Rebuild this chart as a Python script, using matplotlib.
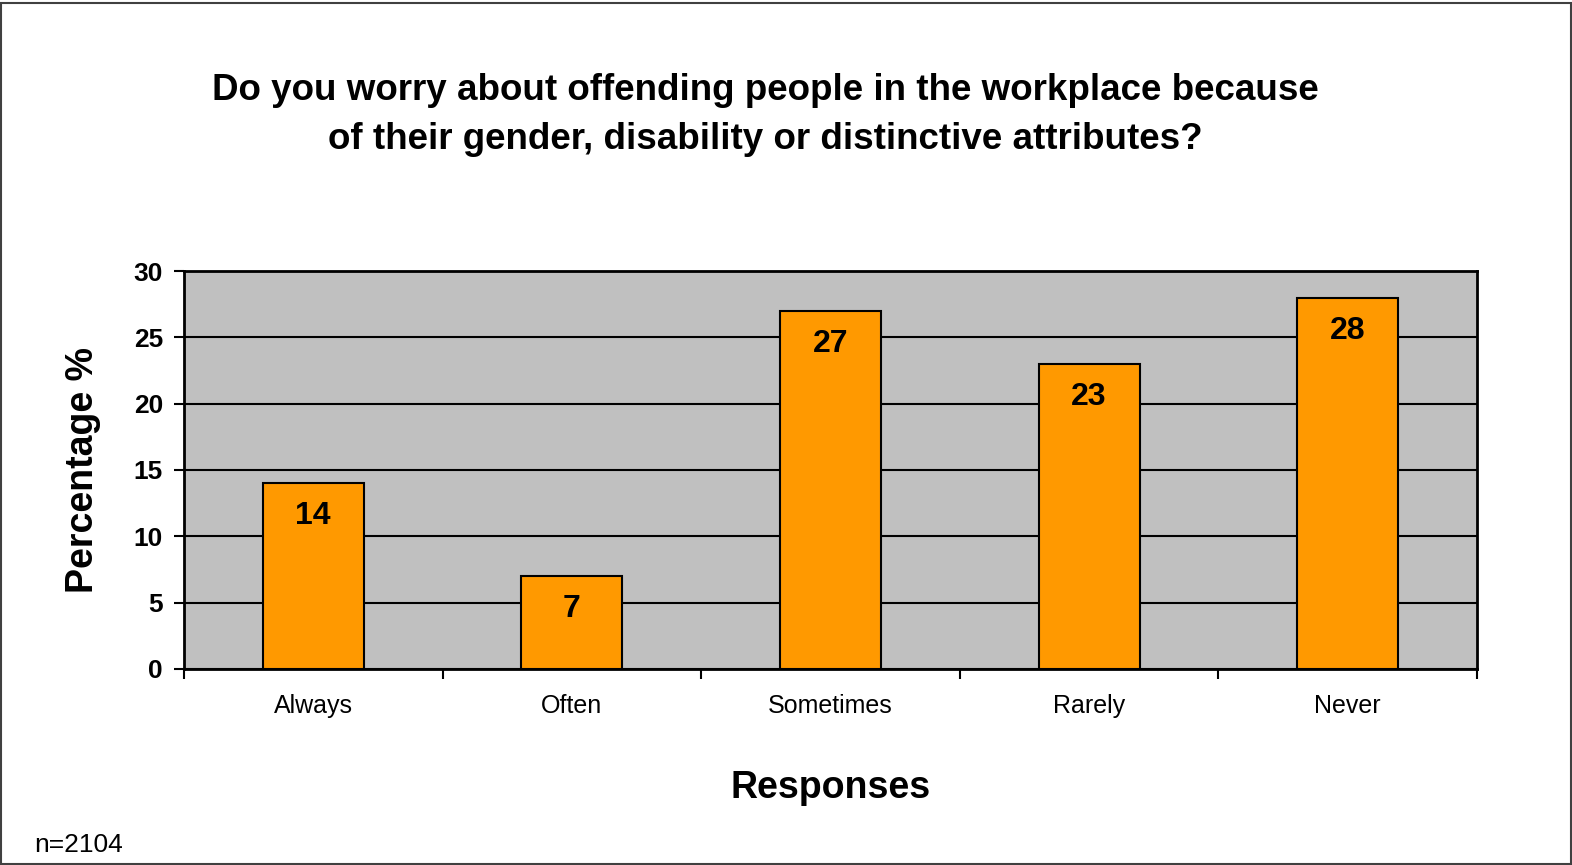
import matplotlib
matplotlib.use("Agg")
import matplotlib.pyplot as plt
from matplotlib.patches import Rectangle

plt.rcParams["font.family"] = ["Liberation Sans", "DejaVu Sans"]

categories = ["Always", "Often", "Sometimes", "Rarely", "Never"]
values = [14, 7, 27, 23, 28]
yticks = [0, 5, 10, 15, 20, 25, 30]

title = ("Do you worry about offending people in the workplace because\n"
         "of their gender, disability or distinctive attributes?")

fig = plt.figure(figsize=(15.72, 8.65), dpi=100)
ax = fig.add_axes([0.117, 0.2266, 0.8226, 0.4601])
ax.set_facecolor("#c0c0c0")

x = list(range(len(categories)))
bars = ax.bar(x, values, width=0.39, color="#ff9900", edgecolor="black",
              linewidth=1.5, zorder=3)
for b, v in zip(bars, values):
    ax.annotate(str(v), (b.get_x() + b.get_width() / 2, v),
                xytext=(0, -33), textcoords="offset pixels",
                ha="center", va="center", fontsize=23, fontweight="bold", zorder=4)

ax.set_xlim(-0.5, len(categories) - 0.5)
ax.set_ylim(0, 30)
ax.set_yticks(yticks)
ax.set_yticklabels([str(t) for t in yticks], fontsize=19, fontweight="bold")
ax.yaxis.grid(True, color="black", linewidth=1.5, zorder=1)
ax.set_axisbelow(True)

# category labels sit between the boundary ticks
ax.set_xticks([i - 0.5 for i in range(len(categories) + 1)])
ax.set_xticklabels([])
ax.set_xticks(x, minor=True)
ax.set_xticklabels(categories, minor=True, fontsize=18)
ax.tick_params(axis="x", which="minor", length=0, pad=18)
ax.tick_params(axis="x", which="major", direction="out", length=7, width=1.5)
ax.tick_params(axis="y", direction="out", length=7, width=1.5, pad=8)
for s in ax.spines.values():
    s.set_linewidth(2)

ax.set_ylabel("Percentage %", fontsize=27, fontweight="bold")
ax.yaxis.set_label_coords(-0.078, 0.5)
ax.yaxis.label.set_va("center")
ax.set_xlabel("Responses", fontsize=27, fontweight="bold")
ax.xaxis.set_label_coords(0.5, -0.298)
ax.xaxis.label.set_va("center")

fig.text(0.487, 0.867, title, ha="center", va="center", fontsize=26.5,
         fontweight="bold", linespacing=1.52)
fig.text(0.022, 0.023, "n=2104", fontsize=19, ha="left", va="center")

fig.patches.append(Rectangle((0.0005, 0.001), 0.999, 0.996, transform=fig.transFigure,
                             fill=False, edgecolor="#404040", linewidth=1.5))

fig.savefig("out.png", dpi=100)
